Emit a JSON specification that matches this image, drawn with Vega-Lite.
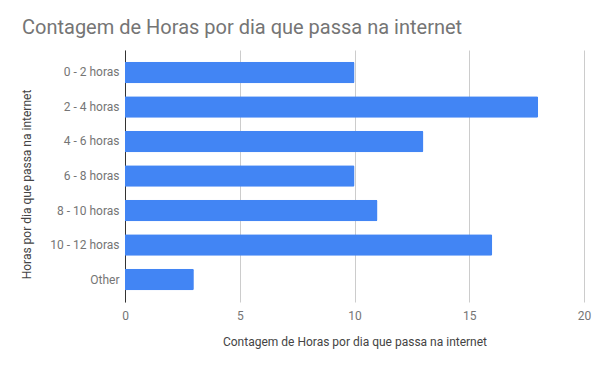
{
  "$schema": "https://vega.github.io/schema/vega-lite/v6.json",
  "width": 459,
  "height": 252,
  "autosize": "none",
  "padding": {"left": 125, "top": 50, "right": 20, "bottom": 68},
  "background": "white",
  "title": {
    "text": "Contagem de Horas por dia que passa na internet",
    "anchor": "start",
    "frame": "group",
    "dx": -103,
    "dy": 20,
    "offset": 16,
    "baseline": "alphabetic",
    "font": "Roboto",
    "fontSize": 20,
    "fontWeight": "normal",
    "color": "#757575"
  },
  "data": {
    "values": [
      {"cat": "0 - 2 horas", "n": 10},
      {"cat": "2 - 4 horas", "n": 18},
      {"cat": "4 - 6 horas", "n": 13},
      {"cat": "6 - 8 horas", "n": 10},
      {"cat": "8 - 10 horas", "n": 11},
      {"cat": "10 - 12 horas", "n": 16},
      {"cat": "Other", "n": 3}
    ]
  },
  "mark": {"type": "bar", "color": "#4285F4", "cornerRadiusEnd": 1.5},
  "encoding": {
    "y": {
      "field": "cat",
      "type": "nominal",
      "sort": null,
      "scale": {"paddingInner": 0.37, "paddingOuter": 0.337},
      "axis": {
        "title": "Horas por dia que passa na internet",
        "ticks": false,
        "domain": true,
        "domainColor": "#333333",
        "domainWidth": 1,
        "labelPadding": 6,
        "labelFont": "Roboto",
        "labelFontSize": 12,
        "labelColor": "#757575",
        "titleFont": "Roboto",
        "titleFontSize": 12,
        "titleFontWeight": "normal",
        "titleColor": "#444444",
        "titleX": -92,
        "titleY": 134,
        "titleBaseline": "bottom",
        "titleAlign": "center"
      }
    },
    "x": {
      "field": "n",
      "type": "quantitative",
      "scale": {"domain": [0, 20], "nice": false},
      "axis": {
        "title": "Contagem de Horas por dia que passa na internet",
        "values": [0, 5, 10, 15, 20],
        "ticks": false,
        "domain": false,
        "grid": true,
        "gridColor": "#cccccc",
        "labelFlush": false,
        "labelPadding": 8,
        "labelFont": "Roboto",
        "labelFontSize": 12,
        "labelColor": "#757575",
        "titleFont": "Roboto",
        "titleFontSize": 12,
        "titleFontWeight": "normal",
        "titleColor": "#444444",
        "titlePadding": 15
      }
    }
  },
  "config": {
    "view": {"stroke": null}
  }
}
